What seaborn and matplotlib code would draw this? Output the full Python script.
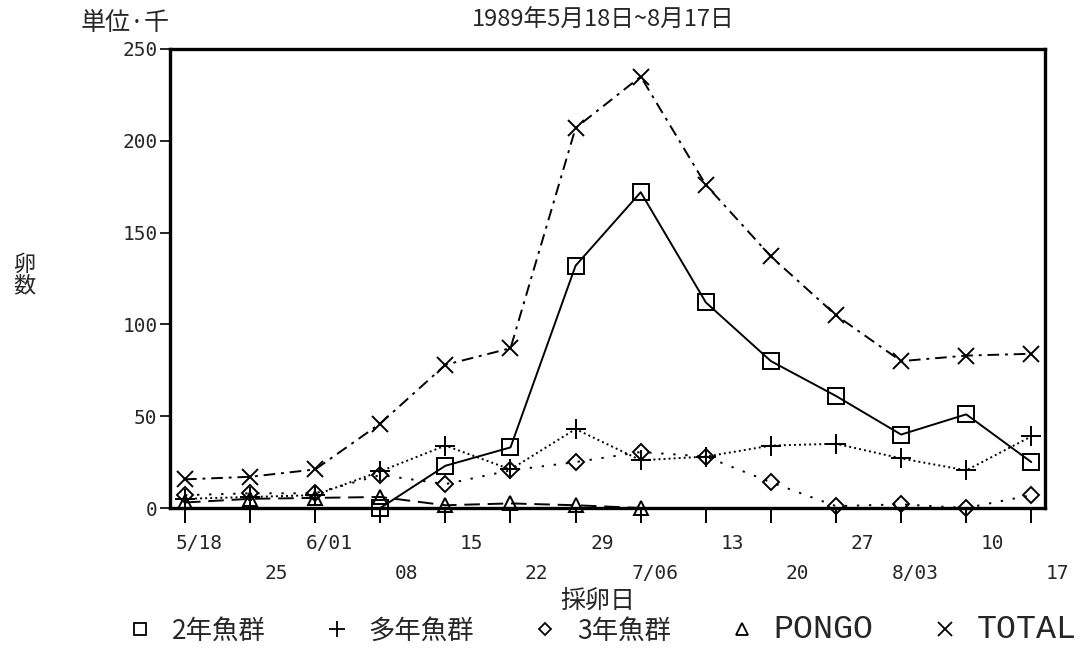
import numpy as np
import pandas as pd
import matplotlib
matplotlib.use("Agg")
import matplotlib.pyplot as plt
import matplotlib.transforms as mtransforms
from matplotlib.lines import Line2D
import seaborn as sns

# ---- data ----
dates = ["5/18", "25", "6/01", "08", "15", "22", "29", "7/06", "13", "20", "27", "8/03", "10", "17"]
age2 = [np.nan, np.nan, np.nan, 0, 23, 33, 132, 172, 112, 80, 61, 40, 51, 25]
multi = [5, 6, 7, 20, 34, 21, 43, 26, 28, 34, 35, 27, 20.5, 39]
age3 = [7, 8, 8, 18, 13, 20.5, 25, 30.5, 28, 14, 1, 2, 0, 7]
pongo = [3, 5, 5.5, 6, 1.5, 2.5, 1.5, 0, np.nan, np.nan, np.nan, np.nan, np.nan, np.nan]
total = [15.6, 17, 21, 46, 78, 87, 207, 235, 176, 137, 105, 80, 83, 84]
series_names = ["2年魚群", "多年魚群", "3年魚群", "PONGO", "TOTAL"]
yticks = [0, 50, 100, 150, 200, 250]

sns.set_theme(style="white")
plt.rcParams["font.family"] = ["DejaVu Sans", "Noto Sans CJK JP"]

fig = plt.figure(figsize=(10.82, 6.64), dpi=100)
ax = fig.add_axes([170 / 1082, 1 - 508 / 664, 875 / 1082, 459 / 664])

x = np.arange(len(dates))
styles = [
    dict(marker="s", ls="-", ms=11),
    dict(marker="+", ls=(0, (1, 1.6)), ms=14),
    dict(marker="D", ls=(0, (1.2, 5)), ms=8),
    dict(marker="^", ls=(0, (8, 4)), ms=10),
    dict(marker="x", ls=(0, (6, 3, 1.5, 3)), ms=12),
]
for vals, st in zip([age2, multi, age3, pongo, total], styles):
    df = pd.DataFrame({"x": x, "y": vals}).dropna()
    sns.lineplot(data=df, x="x", y="y", ax=ax, color="black", linewidth=1.4,
                 marker=st["marker"], markersize=st["ms"], linestyle=st["ls"],
                 markerfacecolor="none", markeredgecolor="black",
                 markeredgewidth=1.4, errorbar=None, sort=False, clip_on=False)

ax.set_xlim(-0.23, 13.21)
ax.set_ylim(0, 250)
ax.set_yticks(yticks)
ax.set_yticklabels([str(v) for v in yticks], family="DejaVu Sans Mono", fontsize=14)
ax.set_xticks(x)
ax.set_xticklabels(dates, family="DejaVu Sans Mono", fontsize=14)
ax.tick_params(axis="y", direction="out", length=7, width=1.2, pad=2, color="black", left=True)
ax.tick_params(axis="x", direction="out", length=11, width=1.4, color="black", bottom=True)
for i, tk in enumerate(ax.xaxis.get_major_ticks()):
    tk.set_pad(7.5 if i % 2 == 0 else 29)
offset = mtransforms.ScaledTranslation(38 / 100, 0, fig.dpi_scale_trans)
for lab in ax.get_xticklabels():
    lab.set_ha("right")
    lab.set_transform(lab.get_transform() + offset)

for s in ax.spines.values():
    s.set_color("black")
    s.set_linewidth(2.4)
ax.set_xlabel("")
ax.set_ylabel("")
ax.grid(False)

fig.text(603 / 1082, 1 - 20 / 664, "1989年5月18日~8月17日", ha="center", va="center",
         fontsize=17, family=["Noto Sans CJK JP", "DejaVu Sans"])
fig.text(125 / 1082, 1 - 23 / 664, "単位·千", ha="center", va="center",
         fontsize=18, family=["Noto Sans CJK JP", "DejaVu Sans"])
fig.text(24 / 1082, 1 - 275 / 664, "卵\n数", ha="center", va="center", linespacing=0.9,
         fontsize=16, family=["Noto Sans CJK JP", "DejaVu Sans"])
fig.text(598 / 1082, 1 - 601 / 664, "採卵日", ha="center", va="center",
         fontsize=18, family=["Noto Sans CJK JP", "DejaVu Sans"])

handles = [Line2D([], [], color="black", ls="none", marker=st["marker"],
                  markersize=st["ms"] * 0.8, markerfacecolor="none",
                  markeredgewidth=1.3) for st in styles]
leg = fig.legend(handles, series_names, ncol=5, loc="center", frameon=False,
                 bbox_to_anchor=(603 / 1082, 1 - 630 / 664), handlelength=0.8,
                 handletextpad=0.8, columnspacing=2.3, fontsize=19)
for t in leg.get_texts():
    if t.get_text() in ("PONGO", "TOTAL"):
        t.set_family(["Liberation Mono", "DejaVu Sans"])
        t.set_fontsize(24)
    else:
        t.set_family(["Noto Sans CJK JP", "DejaVu Sans"])

fig.savefig("out.png", dpi=100)
